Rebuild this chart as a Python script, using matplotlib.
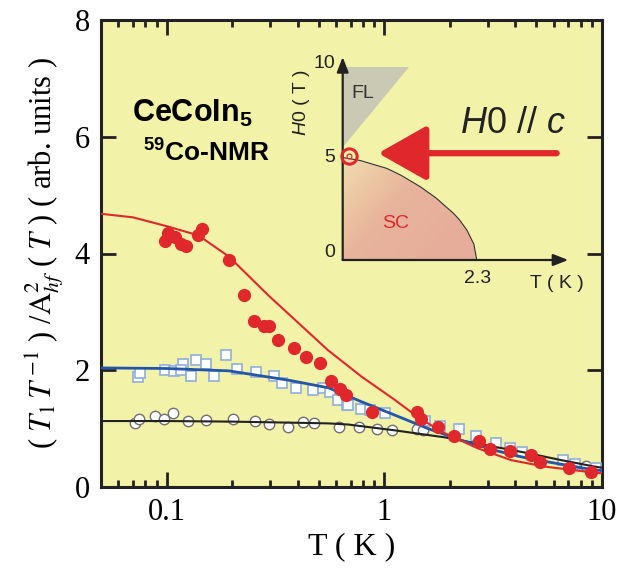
import numpy as np
import matplotlib.pyplot as plt
from matplotlib.patches import Polygon
from matplotlib.colors import LinearSegmentedColormap

plt.rcParams['mathtext.fontset'] = 'custom'
plt.rcParams['mathtext.rm'] = 'Liberation Sans'
plt.rcParams['mathtext.it'] = 'Liberation Sans:italic'
plt.rcParams['mathtext.bf'] = 'Liberation Sans:bold'

# main panel data
T_red = [0.098, 0.102, 0.109, 0.117, 0.123, 0.140, 0.146, 0.194, 0.228, 0.252, 0.281, 0.294,
         0.324, 0.384, 0.436, 0.505, 0.569, 0.626, 0.664, 0.875, 1.41, 1.47, 1.76, 2.09,
         2.73, 3.05, 3.77, 4.72, 5.21, 7.06, 8.93]
y_red = [4.22, 4.35, 4.28, 4.17, 4.12, 4.32, 4.42, 3.89, 3.29, 2.85, 2.76, 2.76,
         2.51, 2.38, 2.22, 2.13, 1.81, 1.68, 1.57, 1.28, 1.28, 1.16, 1.02, 0.88,
         0.79, 0.65, 0.62, 0.55, 0.42, 0.32, 0.26]

T_sq = [0.0739, 0.0752, 0.098, 0.108, 0.119, 0.117, 0.130, 0.137, 0.151, 0.166, 0.187, 0.210,
        0.257, 0.310, 0.338, 0.392, 0.469, 0.525, 0.564, 0.611, 0.671, 0.684, 0.782, 0.860,
        1.01, 1.54, 1.80, 2.21, 2.65, 3.27, 3.77, 4.27, 6.63, 7.54, 9.42]
y_sq = [1.885, 1.96, 2.00, 1.98, 2.11, 2.00, 1.91, 2.17, 2.10, 1.90, 2.26, 2.02,
        1.97, 1.90, 1.78, 1.70, 1.67, 1.69, 1.62, 1.49, 1.40, 1.40, 1.33, 1.32,
        1.26, 1.13, 1.04, 0.99, 0.87, 0.75, 0.67, 0.60, 0.46, 0.39, 0.33]

T_circ = [0.0713, 0.0749, 0.0881, 0.0972, 0.107, 0.125, 0.152, 0.202, 0.255, 0.294, 0.363,
          0.425, 0.478, 0.620, 0.768, 0.922, 1.09, 1.41, 1.50, 8.47]
y_circ = [1.10, 1.16, 1.22, 1.17, 1.27, 1.13, 1.15, 1.17, 1.13, 1.08, 1.03,
          1.11, 1.09, 1.03, 1.02, 0.99, 0.97, 0.99, 0.97, 0.36]

# fitted curves, read at a set of temperatures
T_fit_red = [0.05, 0.07, 0.102, 0.14, 0.193, 0.294, 0.44, 0.553, 0.787, 1.12, 1.46, 1.90,
             2.70, 3.83, 5.45, 9.25, 10]
y_fit_red = [4.68, 4.62, 4.46, 4.31, 3.95, 3.28, 2.68, 2.34, 1.89, 1.49, 1.17, 0.92,
             0.66, 0.46, 0.35, 0.245, 0.235]
T_fit_blue = [0.05, 0.1, 0.193, 0.363, 0.553, 0.787, 1.12, 1.59, 2.26, 3.2, 4.57, 6.5, 8.93, 10]
y_fit_blue = [2.04, 2.03, 1.99, 1.83, 1.70, 1.46, 1.23, 1.00, 0.80, 0.63, 0.49, 0.39, 0.30, 0.28]
T_fit_blk = [0.05, 0.1, 0.2, 0.4, 0.553, 0.684, 1.12, 1.90, 3.2, 4.57, 6.5, 9.25, 10]
y_fit_blk = [1.13, 1.13, 1.12, 1.10, 1.09, 1.07, 0.97, 0.85, 0.69, 0.58, 0.46, 0.35, 0.33]

# inset phase diagram
T_dome = [0, 0.3, 0.755, 1.0, 1.33, 1.6, 1.90, 2.0, 2.13, 2.25, 2.3]
H_dome = [5.2, 5.05, 4.65, 4.3, 3.72, 3.15, 2.37, 2.05, 1.52, 0.8, 0.0]
T_fl = [0, 0, 1.13]
H_fl = [5.75, 9.8, 9.8]

bg = '#f2f2a8'
red = '#e0282c'

fig = plt.figure(figsize=(6.31, 5.72), dpi=100)
ax = fig.add_axes([101/631, 85/572, 501/631, 467/572])
ax.set_facecolor(bg)

ax.plot(T_circ, y_circ, 'o', ms=7.5, mfc='white', mec='#707070', mew=1.0, zorder=2)
ax.plot(T_sq, y_sq, 's', ms=7.5, mfc='white', mec='#8faedc', mew=1.2, zorder=3)
ax.plot(T_fit_blk, y_fit_blk, color='#222222', lw=1.5, zorder=4)
ax.plot(T_fit_blue, y_fit_blue, color='#2356a8', lw=2.0, zorder=4)
ax.plot(T_red, y_red, 'o', ms=8.5, color=red, mec=red, zorder=5)
ax.plot(T_fit_red, y_fit_red, color=red, lw=1.5, zorder=6)

ax.set_xscale('log')
ax.set_xlim(0.05, 10)
ax.set_ylim(0, 8)
ax.set_yticks([0, 2, 4, 6, 8])
ax.set_xticks([0.1, 1, 10])
ax.set_xticklabels(['0.1', '1', '10'])
ax.tick_params(which='both', direction='in', top=True, right=True, width=2, colors='#222222',
               labelcolor='black', labelsize=22, pad=8)
ax.tick_params(which='major', length=11)
ax.tick_params(which='minor', length=5)
for lab in ax.get_xticklabels() + ax.get_yticklabels():
    lab.set_family('Liberation Serif')
for s in ax.spines.values():
    s.set_linewidth(2.2)
    s.set_color('#222222')

ax.set_xlabel('T ( K )', family='Liberation Serif', fontsize=23, labelpad=4)
ax.set_ylabel(r'( $T_{\mathit{1}}\,T^{\,\mathrm{-1}}$ ) /$\mathrm{A}^{2}_{hf}$ ( $T$ ) ( arb. units )',
              family='Liberation Serif', fontsize=22, math_fontfamily='stix', labelpad=6)

ax.text(0.182, 0.80, r'CeCoIn$_\mathbf{5}$', transform=ax.transAxes, ha='center', va='center',
        fontsize=22, fontweight='bold', family='Liberation Sans')
ax.text(0.21, 0.716, r'$^\mathbf{59}$Co-NMR', transform=ax.transAxes, ha='center', va='center',
        fontsize=19, fontweight='bold', family='Liberation Sans')

# inset
axi = fig.add_axes([342.7/631, 312/572, 233.2/631, 206.9/572])
axi.set_xlim(0, 4)
axi.set_ylim(0, 10.5)
axi.axis('off')
axi.patch.set_alpha(0)

axi.fill(T_fl, H_fl, color='#c9c9b4', lw=0)
dome = Polygon(list(zip([0] + T_dome, [0] + H_dome)), closed=True, facecolor='none', edgecolor='none')
axi.add_patch(dome)
gx, gy = np.meshgrid(np.linspace(0, 1, 60), np.linspace(0, 1, 60))
grad = np.clip(0.9 * gx + 0.6 * (1 - gy), 0, 1.2)
cmap = LinearSegmentedColormap.from_list('sc', ['#f0dcae', '#e8b49c', '#e6ae9a'])
im = axi.imshow(grad, cmap=cmap, extent=[0, 2.3, 0, 5.2], origin='lower', aspect='auto', zorder=1)
im.set_clip_path(dome)
axi.plot(T_dome, H_dome, color='#333333', lw=0.8, zorder=2)

axi.annotate('', xy=(0, 10.3), xytext=(0, 0), arrowprops=dict(arrowstyle='-|>,head_length=0.9,head_width=0.35',
             color='#222222', lw=1.6, shrinkA=0, shrinkB=0), annotation_clip=False, zorder=3)
axi.annotate('', xy=(3.87, 0), xytext=(0, 0), arrowprops=dict(arrowstyle='-|>,head_length=0.9,head_width=0.35',
             color='#222222', lw=1.6, shrinkA=0, shrinkB=0), annotation_clip=False, zorder=3)

axi.plot([0.1], [5.3], 'o', ms=11, mfc='none', mec=red, mew=2.2, zorder=4, clip_on=False)
axi.plot([0.1], [5.3], 'o', ms=3.5, mfc='none', mec=red, mew=0.9, zorder=4, clip_on=False)
axi.annotate('', xy=(0.61, 5.42), xytext=(3.67, 5.42),
             arrowprops=dict(arrowstyle='-|>,head_length=3.0,head_width=1.7', color=red, lw=4.5,
                             shrinkA=0, shrinkB=0), annotation_clip=False, zorder=4)

sans = 'Liberation Sans'
for lab, hh in [('10', 9.98), ('5', 5.18), ('0', 0.36)]:
    axi.text(-0.13, hh, lab, ha='right', va='center', fontsize=14, family=sans, color='#222222')
axi.text(2.32, -0.95, '2.3', ha='center', va='center', fontsize=14, family=sans, color='#222222')
axi.text(3.68, -1.2, 'T ( K )', ha='center', va='center', fontsize=14, family=sans, color='#222222')
axi.text(-0.70, 7.97, r'$\mathit{H}$0 ( T )', rotation=90, ha='center', va='center', fontsize=14,
         family=sans, color='#222222')
axi.text(0.35, 8.46, 'FL', ha='center', va='center', fontsize=14, family=sans, color='#333333')
axi.text(0.9, 1.86, 'SC', ha='center', va='center', fontsize=14, family=sans, color=red)
axi.text(2.92, 6.95, r'$\mathit{H}$0 $\mathit{//\ c}$', ha='center', va='center', fontsize=26,
         family=sans, color='#222222')

fig.savefig('out.png', dpi=100)
